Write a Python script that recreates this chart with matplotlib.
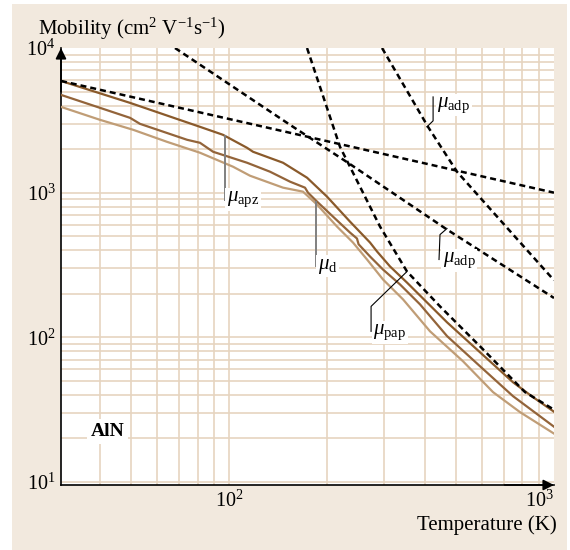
import numpy as np
import matplotlib
matplotlib.use("Agg")
import matplotlib.pyplot as plt
from matplotlib.patches import Rectangle

plt.rcParams['font.family'] = ['Liberation Serif', 'DejaVu Serif']
plt.rcParams['mathtext.fontset'] = 'custom'
plt.rcParams['mathtext.rm'] = 'Liberation Serif'
plt.rcParams['mathtext.it'] = 'Liberation Serif:italic'
plt.rcParams['mathtext.bf'] = 'Liberation Serif:bold'

# dashed curves (single mechanisms)
T_A = [30.4, 154.1, 502.9, 1000]
mu_A = [5920, 2594, 1419, 1000]

T_B = [68.2, 154.1, 232.3, 468.6, 1000]
mu_B = [10000, 2943, 1610, 556, 187]

T_C = [173.8, 219.5, 232.3, 291.5, 352.9, 445.9, 592.0, 814.3, 1000]
mu_C = [10000, 2075, 1610, 583, 285, 163.6, 86.7, 41.8, 31.6]

T_D = [295.7, 409.6, 502.9, 707.2, 1000]
mu_D = [10000, 2851, 1396, 592, 248]

# solid curves (total mobility)
T_top = [30.4, 49.6, 81.4, 95.8, 113.6, 118.5, 146.6, 173.8, 200.3, 235.6,
         271.6, 285.4, 312.9, 352.9, 468.6, 592.0, 747.9, 861.7, 1000]
mu_top = [5920, 4175, 2852, 2512, 2043, 1918, 1610, 1269, 938, 631,
          452, 392, 309, 239, 127, 78.8, 48.9, 38.6, 30.6]

T_mid = [30.4, 40.1, 49.6, 53.2, 74.3, 81.4, 89.3, 113.6, 133.7, 154.1,
         171.3, 175.0, 186.6, 208.9, 235.6, 247.6, 250.4, 271.6, 297.8, 335.9,
         387.0, 468.6, 592.0, 747.9, 1000]
mu_mid = [4742, 3857, 3290, 2991, 2320, 2212, 1918, 1610, 1396, 1191,
          1083, 1000, 867, 683, 530, 482, 440, 362, 294, 232,
          169, 102, 63.1, 39.2, 24.1]

T_bot = [30.4, 40.1, 50.7, 64.4, 81.4, 102.9, 116.0, 146.6, 168.9, 186.6,
         214.9, 240.7, 265.9, 297.8, 343.1, 415.5, 524.8, 649.2, 786.0, 1000]
mu_bot = [3918, 3187, 2720, 2247, 1888, 1511, 1310, 1083, 1016, 827,
          583, 452, 345, 251, 183, 110, 68.3, 41.8, 30.4, 21.6]

fig = plt.figure(figsize=(5.7, 5.5), dpi=100)
fig.patches.append(Rectangle((0.021, 0.0), 0.974, 0.993, transform=fig.transFigure,
                             facecolor='#f2e9de', edgecolor='none', zorder=-10))
ax = fig.add_axes([0.1070, 0.1182, 0.8649, 0.7945])
ax.set_facecolor('white')
ax.set_xscale('log')
ax.set_yscale('log')
ax.set_xlim(30.4, 1000)
ax.set_ylim(9.53, 10000)

grid_c = '#e6d4c0'
for v in [40, 50, 60, 70, 80, 90, 100, 200, 300, 400, 500, 600, 700, 800, 900]:
    ax.axvline(v, color=grid_c, lw=1.2, zorder=1)
for d in [10, 100, 1000]:
    for k in range(1, 10):
        ax.axhline(d * k, color=grid_c, lw=1.2, zorder=1)

dash = (0, (2.4, 1.6))
for T, mu in [(T_A, mu_A), (T_B, mu_B), (T_C, mu_C), (T_D, mu_D)]:
    ax.plot(T, mu, color='black', lw=1.8, linestyle=dash, zorder=4)

ax.plot(T_bot, mu_bot, color='#c09d76', lw=1.6, zorder=3)
ax.plot(T_mid, mu_mid, color='#93643a', lw=1.6, zorder=3)
ax.plot(T_top, mu_top, color='#8a5a2b', lw=1.6, zorder=3)

for s in ['top', 'right']:
    ax.spines[s].set_visible(False)
for s in ['left', 'bottom']:
    ax.spines[s].set_linewidth(1.2)
ax.annotate('', xy=(0, 1.0), xytext=(0, 0.9), xycoords='axes fraction',
            arrowprops=dict(arrowstyle='-|>', lw=1.2, color='k', mutation_scale=16,
                            shrinkA=0, shrinkB=0))
ax.annotate('', xy=(1.0, 0), xytext=(0.9, 0), xycoords='axes fraction',
            arrowprops=dict(arrowstyle='-|>', lw=1.2, color='k', mutation_scale=16,
                            shrinkA=0, shrinkB=0))

ax.set_xticks([100, 1000])
ax.set_xticklabels([r'$10^2$', r'$10^3$'])
ax.set_xticks([], minor=True)
ax.set_yticks([10, 100, 1000, 10000])
ax.set_yticklabels([r'$10^1$', r'$10^2$', r'$10^3$', r'$10^4$'])
ax.set_yticks([], minor=True)
ax.tick_params(length=0, labelsize=14.5, pad=4)
ax.get_xticklabels()[1].set_horizontalalignment('right')

fig.text(0.067, 0.948, r'Mobility (cm$^2$ V$^{-1}$s$^{-1}$)', fontsize=15, va='center')
fig.text(0.977, 0.045, 'Temperature (K)', fontsize=15, ha='right', va='center')
ax.text(37.5, 22.2, 'AlN', fontsize=14, fontweight='bold', va='center',
        bbox=dict(facecolor='white', edgecolor='none', pad=3), zorder=5)

box = dict(facecolor='white', edgecolor='none', pad=1)
# leader lines and labels
ax.plot([97.2, 97.2], [2475, 895], color='#808080', lw=1.4, zorder=5)
ax.text(98.5, 895, r'$\mu_{\rm apz}$', fontsize=15, va='center', bbox=box, zorder=6)

ax.plot([185.4, 185.4], [867, 309], color='#808080', lw=1.4, zorder=5)
ax.text(187.5, 309, r'$\mu_{\rm d}$', fontsize=15, va='center', bbox=box, zorder=6)

ax.plot([406.5, 424.6, 424.6], [2852, 3138, 4591], color='black', lw=0.8, zorder=5)
ax.text(436.5, 4048, r'$\mu_{\rm adp}$', fontsize=15, va='center', bbox=box, zorder=6)

ax.plot([468.6, 445.9, 442.8], [565, 513, 345], color='black', lw=0.8, zorder=5)
ax.text(455.3, 340, r'$\mu_{\rm adp}$', fontsize=15, va='center', bbox=box, zorder=6)

ax.plot([352.9, 273.6, 273.6], [285, 163.6, 110], color='black', lw=0.8, zorder=5)
ax.text(277.5, 108, r'$\mu_{\rm pap}$', fontsize=15, va='center', bbox=box, zorder=6)

fig.savefig('out.png', dpi=100)
